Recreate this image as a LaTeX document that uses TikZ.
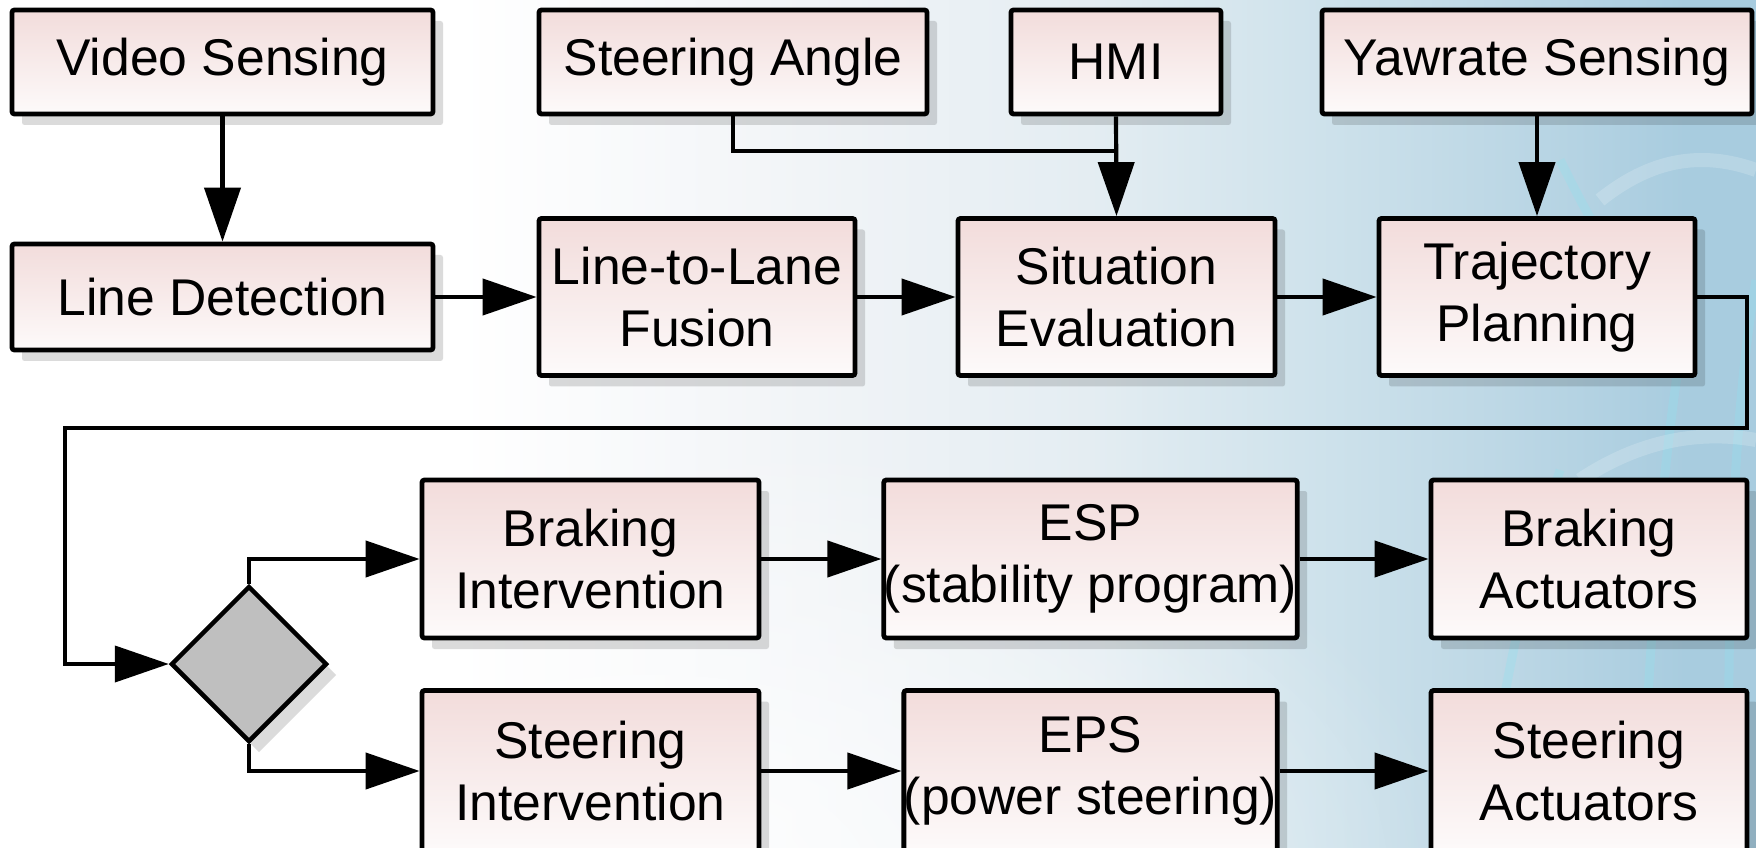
\documentclass[tikz,border=0pt]{standalone}
\usepackage{fontspec}
\setmainfont{Liberation Sans}
\usetikzlibrary{arrows.meta,shapes.geometric,shadows,fadings}

\definecolor{boxtop}{HTML}{F2DCDB}
\definecolor{boxbot}{HTML}{FDFAFA}
\definecolor{decgray}{HTML}{BFBFBF}
\definecolor{bgA}{HTML}{F1F4F7}
\definecolor{bgB}{HTML}{E4EDF2}
\definecolor{bgC}{HTML}{D0E3EC}
\definecolor{bgD}{HTML}{BCD7E5}
\definecolor{bgE}{HTML}{A8CCDF}
\definecolor{streak}{HTML}{8FE3F0}

% background wash: white on the left, light blue towards the right
\pgfdeclarehorizontalshading{bgwash}{100bp}{%
  color(0bp)=(white); color(25bp)=(white); color(38bp)=(white);
  color(48bp)=(bgA); color(56bp)=(bgB); color(62bp)=(bgC);
  color(68bp)=(bgD); color(73bp)=(bgE); color(100bp)=(bgE)}
% soft white glow, opaque in the middle and clear at the rim
\tikzfading[name=softglow, inner color=transparent!0, outer color=transparent!100]

\newcommand{\boxfont}{\fontsize{14.7}{17.5}\selectfont}

\tikzset{
  shade box/.style={
    draw=black, line width=0.48mm, top color=boxtop, bottom color=boxbot,
    align=center, font=\boxfont, inner sep=0pt, rounded corners=0.25mm,
    drop shadow={shadow xshift=1.0mm, shadow yshift=-1.1mm,
                 fill=black, opacity=0.14}},
  conn/.style={draw=black, line width=0.42mm, line join=miter},
  arr/.style={conn, -{Triangle[length=5.4mm,width=3.6mm]}}
}

\begin{document}
\begin{tikzpicture}[x=0.1mm,y=-0.1mm]
\useasboundingbox (0,0) rectangle (1756,848);
\clip (0,0) rectangle (1756,848);
\shade[shading=bgwash] (0,0) rectangle (1756,848);
\fill[white, opacity=0.9, path fading=softglow] (650,880) ellipse (820 and 460);
% faint light streaks in the blue area
\begin{scope}[streak, opacity=0.3, line width=0.9mm]
  \draw (1640,848) .. controls (1650,650) and (1660,450) .. (1690,300);
  \draw (1730,848) .. controls (1725,600) and (1735,400) .. (1756,280);
  \draw (1480,848) .. controls (1500,700) and (1530,560) .. (1560,470);
  \draw (1420,330) .. controls (1470,300) and (1520,320) .. (1560,360);
  \draw (1560,160) .. controls (1580,200) and (1600,240) .. (1620,260);
\end{scope}
\begin{scope}[white, opacity=0.18, line width=1.4mm]
  \draw (1600,200) .. controls (1650,160) and (1700,150) .. (1756,170);
  \draw (1580,480) .. controls (1640,440) and (1700,430) .. (1756,440);
\end{scope}

% top row
\node[shade box, minimum width=42.1mm, minimum height=10.4mm] (vs)   at (222.5,62) {Video Sensing};
\node[shade box, minimum width=38.8mm, minimum height=10.4mm] (sa)   at (733,62)   {Steering Angle};
\node[shade box, minimum width=21.0mm, minimum height=10.4mm] (hmi)  at (1116,62)  {HMI};
\node[shade box, minimum width=43.0mm, minimum height=10.4mm] (yaw)  at (1537,62)  {Yawrate Sensing};

% second row
\node[shade box, minimum width=42.1mm, minimum height=10.6mm] (ld)   at (222.5,297) {Line Detection};
\node[shade box, minimum width=31.6mm, minimum height=15.7mm] (ll)   at (697,297)   {Line-to-Lane\\Fusion};
\node[shade box, minimum width=31.7mm, minimum height=15.7mm] (se)   at (1116.5,297) {Situation\\Evaluation};
\node[shade box, minimum width=31.6mm, minimum height=15.7mm] (tp)   at (1537,297)  {Trajectory\\Planning};

% decision
\node[diamond, aspect=1, draw=black, line width=0.45mm, fill=decgray,
      minimum width=15.6mm, minimum height=15.6mm, inner sep=0pt,
      drop shadow={shadow xshift=1.0mm, shadow yshift=-1.1mm, fill=black, opacity=0.14}]
      (dec) at (249,664) {};

% braking branch
\node[shade box, minimum width=33.7mm, minimum height=15.8mm] (bi)   at (590.5,559)  {Braking\\Intervention};
\node[shade box, minimum width=41.1mm, minimum height=15.8mm] (esp)  at (1090.5,559) {ESP\\(stability program)};
\node[shade box, minimum width=31.6mm, minimum height=15.8mm] (ba)   at (1589,559)   {Braking\\Actuators};

% steering branch
\node[shade box, minimum width=33.7mm, minimum height=16.1mm] (si)   at (590.5,771)  {Steering\\Intervention};
\node[shade box, minimum width=36.9mm, minimum height=16.1mm] (eps)  at (1090.5,771) {EPS\\(power steering)};
\node[shade box, minimum width=31.6mm, minimum height=16.1mm] (sact) at (1589,771)   {Steering\\Actuators};

% helper points for the routed lines
\coordinate (jn)  at (1116,151);
\coordinate (lpR) at (1747,428);
\coordinate (lpL) at (65,428);

% connectors
\draw[arr] (vs.south) -- (ld.north);
\draw[conn] (sa.south) |- (jn);
\draw[arr] (hmi.south) -- (se.north);
\draw[arr] (yaw.south) -- (tp.north);

\draw[arr] (ld.east) -- (ll.west);
\draw[arr] (ll.east) -- (se.west);
\draw[arr] (se.east) -- (tp.west);

\draw[arr] (tp.east) -| (lpR) -- (lpL) |- (dec.west);

\draw[arr] (dec.north) |- (bi.west);
\draw[arr] (dec.south) |- (si.west);

\draw[arr] (bi.east)  -- (esp.west);
\draw[arr] (esp.east) -- (ba.west);
\draw[arr] (si.east)  -- (eps.west);
\draw[arr] (eps.east) -- (sact.west);
\end{tikzpicture}
\end{document}
